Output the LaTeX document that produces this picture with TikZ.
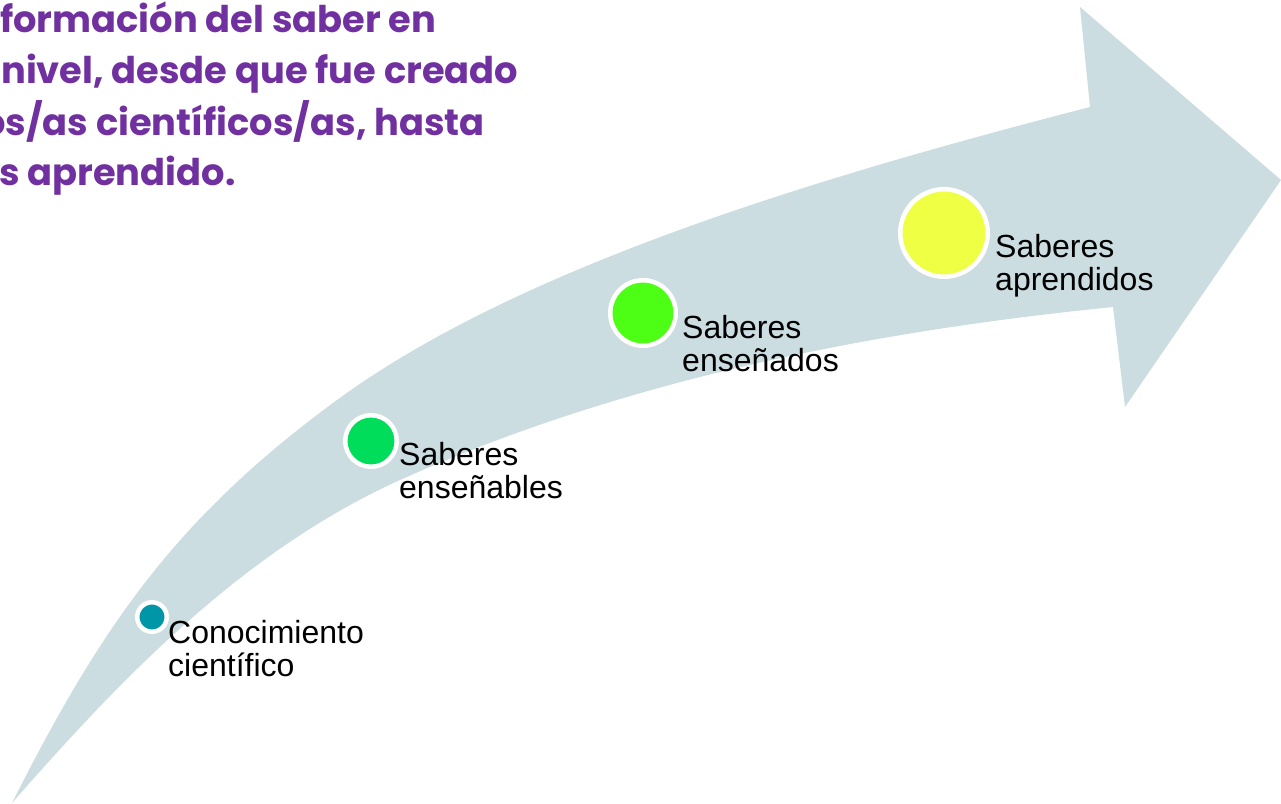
\documentclass[tikz,border=0pt]{standalone}
\usepackage{fontspec}
\setmainfont{Liberation Sans}
\newfontfamily\titlefont{Poppins}
\definecolor{bandc}{RGB}{203,221,225}
\definecolor{titlec}{RGB}{112,48,160}
\definecolor{c1}{RGB}{0,150,167}
\definecolor{c2}{RGB}{0,221,90}
\definecolor{c3}{RGB}{76,255,20}
\definecolor{c4}{RGB}{238,255,68}
\tikzset{
  dot/.style={circle, draw=white, line width=4.5pt, inner sep=0pt},
  lbl/.style={anchor=base west, align=left, inner sep=0pt, font=\fontsize{32}{33}\selectfont, text=black},
  ttl/.style={anchor=base west, inner sep=0pt, font=\titlefont\bfseries\fontsize{36.8}{51}\selectfont, text=titlec}
}
\begin{document}
\begin{tikzpicture}[x=1pt,y=-1pt]
\useasboundingbox (0,0) rectangle (1281,803);
\fill[white] (0,0) rectangle (1281,803);
% curved arrow
\fill[bandc] (12,803) .. controls (102,625) and (176,518) .. (337,400)
  .. controls (523,264) and (829,174.5) .. (1090,107)
  -- (1080,7) -- (1281,180) -- (1125,407) -- (1113,307)
  .. controls (869,331.5) and (623,380) .. (400,480)
  .. controls (245,550) and (124,675) .. (12,803)
  -- cycle;
% title
\node[ttl] (l1) at (0,32) {formación del saber en};
\node[ttl] (l2) at (1,83) {nivel, desde que fue creado};
\node[ttl] (l3) at (-18,135) {os/as científicos/as, hasta};
\node[ttl] (l4) at (-1,185) {s aprendido.};
% circles
\node[dot, fill=c1, minimum size=29.5pt] (d1) at (152,617) {};
\node[dot, fill=c2, minimum size=51.5pt] (d2) at (371,441) {};
\node[dot, fill=c3, minimum size=65.5pt] (d3) at (643,313) {};
\node[dot, fill=c4, minimum size=87.5pt] (d4) at (944,233) {};
% labels (base = last line's baseline)
\node[lbl] (t1) at (168,676) {Conocimiento\\científico};
\node[lbl] (t2) at (399,498) {Saberes\\enseñables};
\node[lbl] (t3) at (682,371) {Saberes\\enseñados};
\node[lbl] (t4) at (995,290) {Saberes\\aprendidos};
\end{tikzpicture}
\end{document}
